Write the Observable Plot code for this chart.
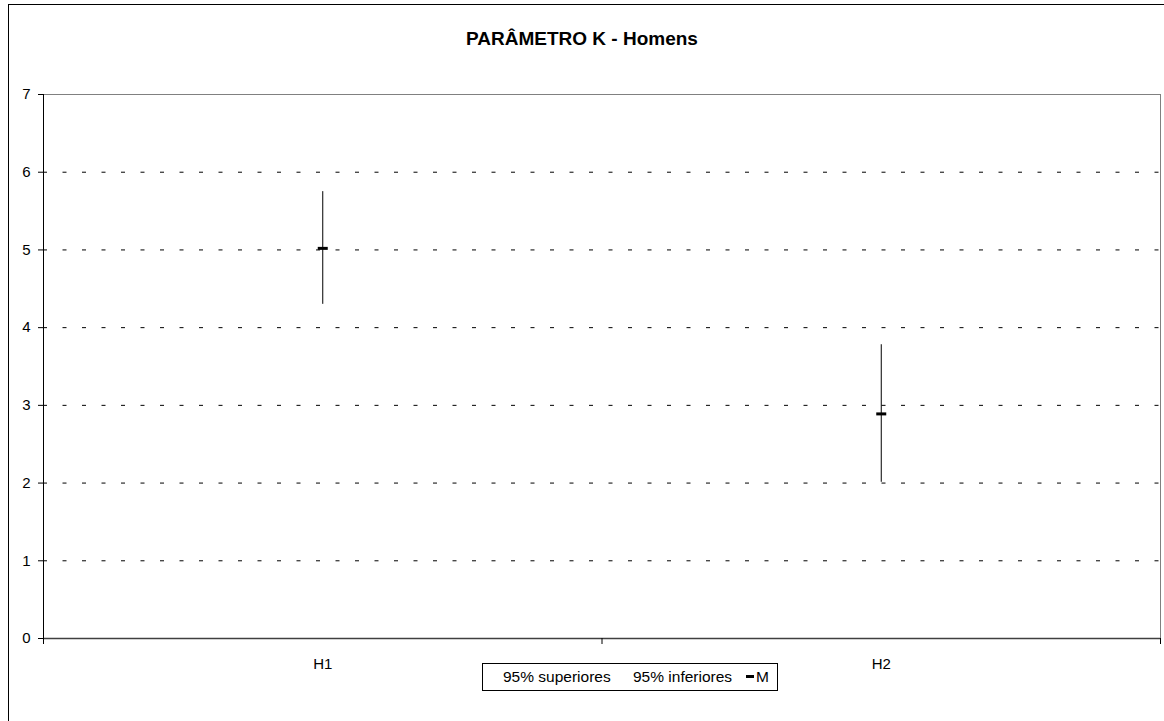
<!DOCTYPE html>
<html>
<head>
<meta charset="utf-8">
<script src="https://cdn.jsdelivr.net/npm/d3@7"></script>
<script src="https://cdn.jsdelivr.net/npm/@observablehq/plot@0.6"></script>
<style>
  html, body { margin: 0; padding: 0; background: #fff; }
  body { width: 1164px; height: 721px; overflow: hidden; position: relative; font-family: "Liberation Sans", Arial, sans-serif; }
  #frame { position: absolute; left: 8px; top: 4px; width: 1170px; height: 730px; border: 1px solid #000; box-sizing: border-box; }
  #title { position: absolute; left: 0; top: 28px; width: 1164px; text-align: center; font-weight: bold; font-size: 19px; color: #000; }
  #chart { position: absolute; left: 0; top: 0; }
  #legend { position: absolute; left: 482px; top: 663px; width: 296px; height: 28px; border: 1px solid #000; box-sizing: border-box; background: #fff; font-size: 15.5px; }
  #legend .it { position: absolute; top: 4px; white-space: nowrap; line-height: 18px; }
  .sw { position: absolute; top: 11px; left: 263px; width: 8px; height: 3px; background: #000; }
</style>
</head>
<body>
<div id="frame"></div>
<div id="chart"></div>
<div id="title">PARÂMETRO K - Homens</div>
<div id="legend">
  <span class="it" style="left:20px">95% superiores</span>
  <span class="it" style="left:150px">95% inferiores</span>
  <span class="sw"></span>
  <span class="it" style="left:273px">M</span>
</div>
<script>
const categories = ["H1", "H2"];
const upper = [5.75, 3.78];
const lower = [4.30, 2.01];
const mean = [5.02, 2.89];
const yTicks = [0, 1, 2, 3, 4, 5, 6, 7];
const gridValues = [1, 2, 3, 4, 5, 6];

const data = categories.map((c, i) => ({
  cat: c, pos: i + 0.5, hi: upper[i], lo: lower[i], m: mean[i]
}));

const meanSymbol = {
  draw(ctx, size) { ctx.rect(-5, -1.5, 10, 3); }
};

const chart = Plot.plot({
  width: 1164,
  height: 721,
  marginLeft: 43,
  marginRight: 4,
  marginTop: 94,
  marginBottom: 83,
  style: { fontFamily: "'Liberation Sans', Arial, sans-serif", fontSize: "15px", background: "transparent", color: "#000" },
  x: { type: "linear", domain: [0, categories.length] },
  y: { domain: [0, 7] },
  marks: [
    Plot.ruleY(gridValues, { stroke: "#000", strokeDasharray: "4,15.5", strokeWidth: 1 }),
    Plot.ruleY([7], { stroke: "#808080", strokeWidth: 1 }),
    Plot.ruleX([categories.length], { stroke: "#808080", strokeWidth: 1 }),
    Plot.ruleY([0], { stroke: "#404040", strokeWidth: 1.5 }),
    Plot.ruleX([0], { stroke: "#000", strokeWidth: 1 }),
    Plot.axisY({ ticks: yTicks, tickSize: 5, tickPadding: 8, tickFormat: d3.format("d"), label: null, fontSize: 15 }),
    Plot.axisX({ ticks: d3.range(categories.length + 1), tickSize: 6, tickFormat: () => "", label: null }),
    Plot.axisX({ ticks: data.map(d => d.pos), tickSize: 0, tickPadding: 20, tickFormat: v => categories[Math.floor(v)], label: null, fontSize: 15 }),
    Plot.ruleX(data, { x: "pos", y1: "lo", y2: "hi", stroke: "#000", strokeWidth: 1 }),
    Plot.dot(data, { x: "pos", y: "m", symbol: meanSymbol, fill: "#000", stroke: "none", r: 5 })
  ]
});
document.getElementById("chart").appendChild(chart);
</script>
</body>
</html>
